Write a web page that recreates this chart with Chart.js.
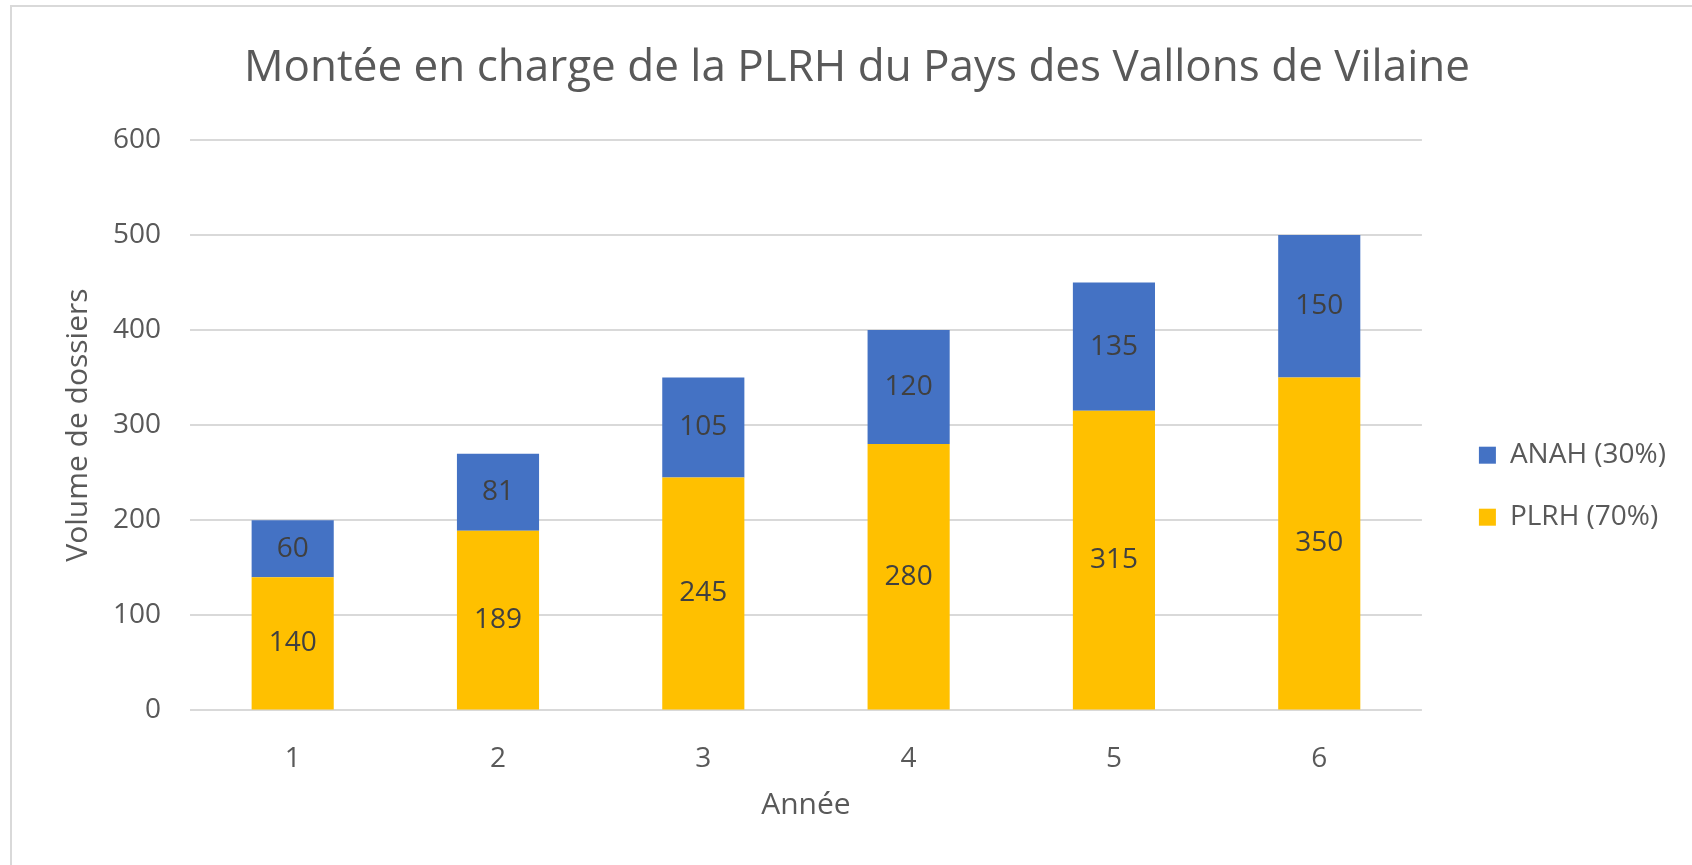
<!DOCTYPE html>
<html lang="fr">
<head>
<meta charset="utf-8">
<title>Montée en charge de la PLRH</title>
<script src="https://cdn.jsdelivr.net/npm/chart.js@4.4.1/dist/chart.umd.min.js"></script>
<style>
  html, body { margin: 0; padding: 0; background: #fff; overflow: hidden; }
  #wrap { position: relative; width: 1692px; height: 865px; }
  #frame { position: absolute; left: 10px; top: 5px; right: 0; bottom: 0;
           border-top: 2px solid #d9d9d9; border-left: 2px solid #d9d9d9; }
  #chart { position: absolute; left: 0; top: 0; }
</style>
</head>
<body>
<div id="wrap">
  <div id="frame"></div>
  <canvas id="chart" width="1692" height="865"></canvas>
</div>
<script>
// Data
const years = ['1', '2', '3', '4', '5', '6'];
const plrhValues = [140, 189, 245, 280, 315, 350];
const anahValues = [60, 81, 105, 120, 135, 150];
const seriesNames = ['PLRH (70%)', 'ANAH (30%)'];
const yMin = 0;
const yMax = 600;
const yStep = 100;

const GOLD = '#FFC000';
const BLUE = '#4472C4';
const TEXT = '#595959';

Chart.defaults.font.family = "'Open Sans', sans-serif";
Chart.defaults.color = TEXT;

// Values written in the middle of each stacked segment
const segmentLabels = {
	id: 'segmentLabels',
	afterDatasetsDraw(chart) {
		const ctx = chart.ctx;
		ctx.save();
		ctx.font = "28px 'Open Sans', sans-serif";
		ctx.fillStyle = '#404040';
		ctx.textAlign = 'center';
		ctx.textBaseline = 'middle';
		chart.data.datasets.forEach(function (ds, i) {
			const meta = chart.getDatasetMeta(i);
			meta.data.forEach(function (bar, j) {
				const p = bar.getProps(['x', 'y', 'base'], true);
				ctx.fillText(String(ds.data[j]), p.x, (p.y + p.base) / 2);
			});
		});
		ctx.restore();
	}
};

document.addEventListener('DOMContentLoaded', function () {
	const ctx = document.getElementById('chart');
	new Chart(ctx, {
		type: 'bar',
		data: {
			labels: years,
			datasets: [
				{ label: seriesNames[0], data: plrhValues, backgroundColor: GOLD, borderWidth: 0 },
				{ label: seriesNames[1], data: anahValues, backgroundColor: BLUE, borderWidth: 0 }
			]
		},
		options: {
			responsive: false,
			animation: false,
			layout: { padding: { left: 38, right: 16, top: 0, bottom: 0 } },
			datasets: {
				bar: { categoryPercentage: 1.0, barPercentage: 0.4 }
			},
			scales: {
				x: {
					stacked: true,
					grid: { display: false },
					border: { display: false },
					ticks: { color: TEXT, font: { size: 28 }, padding: 24 },
					title: {
						display: true, text: 'Année', color: TEXT,
						font: { size: 30, lineHeight: 1 }, padding: { top: -10, bottom: 45 }
					}
				},
				y: {
					stacked: true,
					min: yMin,
					max: yMax,
					grid: { color: '#d9d9d9', lineWidth: 2, drawTicks: false },
					border: { display: false },
					ticks: { stepSize: yStep, color: TEXT, font: { size: 28 }, padding: 29 },
					title: {
						display: true, text: 'Volume de dossiers', color: TEXT,
						font: { size: 30 }, padding: { top: 22, bottom: -12 }
					}
				},
				// empty right-hand axis, only keeps a gap between the bars and the legend
				gap: {
					position: 'right',
					grid: { display: false },
					border: { display: false },
					ticks: { display: false },
					afterFit: function (scale) { scale.width = 23; }
				}
			},
			plugins: {
				title: {
					display: true,
					text: 'Montée en charge de la PLRH du Pays des Vallons de Vilaine',
					color: TEXT,
					font: { size: 44, weight: 'normal' },
					padding: { top: 42, bottom: 45 }
				},
				legend: {
					position: 'right',
					reverse: true,
					title: { display: true, text: '', font: { size: 12 }, padding: { top: 93, bottom: 0 } },
					labels: {
						color: TEXT,
						font: { size: 28 },
						boxWidth: 17,
						boxHeight: 17,
						padding: 34
					}
				},
				tooltip: { enabled: false }
			}
		},
		plugins: [segmentLabels]
	});
});
</script>
</body>
</html>
